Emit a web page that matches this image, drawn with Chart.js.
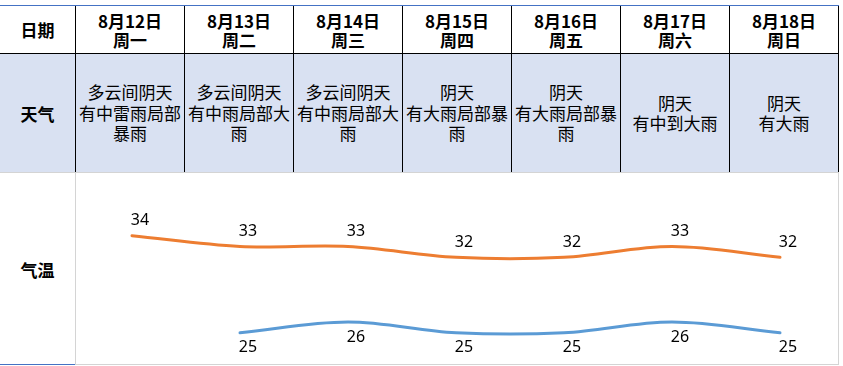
<!DOCTYPE html>
<html>
<head>
<meta charset="utf-8">
<script src="https://cdn.jsdelivr.net/npm/chart.js@4"></script>
<style>
  html, body { margin: 0; padding: 0; background: #fff; }
  body { width: 843px; height: 366px; position: relative; overflow: hidden;
         font-family: "Noto Sans CJK SC", "Noto Sans", sans-serif; color: #000; }
  .abs { position: absolute; }
  .cell { position: absolute; display: flex; align-items: center; justify-content: center;
          text-align: center; box-sizing: border-box; }
  .hdr { font-weight: bold; font-size: 17px; line-height: 19px; }
  .wx { font-size: 17px; line-height: 20.5px; padding: 0 2px; }
</style>
</head>
<body>
<div id="table"></div>
<canvas id="c" width="762" height="191" style="position:absolute;left:76px;top:173px;"></canvas>
<script>
const dates = ['8月12日', '8月13日', '8月14日', '8月15日', '8月16日', '8月17日', '8月18日'];
const weekdays = ['周一', '周二', '周三', '周四', '周五', '周六', '周日'];
const weather = [
  '多云间阴天有中雷雨局部暴雨',
  '多云间阴天有中雨局部大雨',
  '多云间阴天有中雨局部大雨',
  '阴天<br>有大雨局部暴雨',
  '阴天<br>有大雨局部暴雨',
  '阴天<br>有中到大雨',
  '阴天<br>有大雨'
];
const rowLabels = ['日期', '天气', '气温'];
const highs = [34, 33, 33, 32, 32, 33, 32];
const lows = [null, 25, 26, 25, 25, 26, 25];

// ---- table (HTML) ----
const T = document.getElementById('table');
function add(cls, style, html) {
  const d = document.createElement('div');
  d.className = cls;
  Object.assign(d.style, style);
  if (html !== undefined) d.innerHTML = html;
  T.appendChild(d);
  return d;
}
const X0 = 75, CW = 109, N = dates.length;
const xRight = X0 + CW * N; // 838
add('abs', {left: '0px', top: '54px', width: xRight + 'px', height: '118px', background: '#D9E1F2'});
add('abs', {left: '0px', top: '5px', width: (xRight + 1) + 'px', height: '1px', background: '#4472C4'});
add('abs', {left: '0px', top: '53px', width: (xRight + 1) + 'px', height: '1px', background: '#000'});
add('abs', {left: '0px', top: '172px', width: (xRight + 1) + 'px', height: '1px', background: '#D4D4D4'});
for (let i = 0; i <= N; i++) {
  add('abs', {left: (X0 + i * CW) + 'px', top: '6px', width: '1px', height: '166px', background: '#000'});
}
add('abs', {left: X0 + 'px', top: '173px', width: '1px', height: '192px', background: '#D4D4D4'});
add('abs', {left: xRight + 'px', top: '173px', width: '1px', height: '192px', background: '#D4D4D4'});
add('abs', {left: '0px', top: '364px', width: X0 + 'px', height: '1px', background: '#4472C4'});
add('abs', {left: X0 + 'px', top: '364px', width: (xRight - X0 + 1) + 'px', height: '1px', background: '#D4D4D4'});
add('cell hdr', {left: '0px', top: '6px', width: X0 + 'px', height: '47px'}, rowLabels[0]);
add('cell hdr', {left: '0px', top: '54px', width: X0 + 'px', height: '118px'}, rowLabels[1]);
add('cell hdr', {left: '0px', top: '173px', width: X0 + 'px', height: '192px'}, rowLabels[2]);
for (let i = 0; i < N; i++) {
  const l = X0 + i * CW + 1;
  add('cell hdr', {left: l + 'px', top: '6px', width: (CW - 1) + 'px', height: '47px'},
      dates[i] + '<br>' + weekdays[i]);
  let w = weather[i];
  if (i < 3) w = '多云间阴天<br>' + w.slice(5);
  add('cell wx', {left: l + 'px', top: '54px', width: (CW - 1) + 'px', height: '118px'}, w);
}

// ---- chart ----
const labelPlugin = {
  id: 'valueLabels',
  afterDatasetsDraw(chart) {
    const ctx = chart.ctx;
    ctx.save();
    ctx.font = '16px "Noto Sans", sans-serif';
    ctx.fillStyle = '#000';
    ctx.textAlign = 'center';
    ctx.textBaseline = 'middle';
    chart.data.datasets.forEach((ds, di) => {
      const meta = chart.getDatasetMeta(di);
      const dy = ds.labelAbove ? -15 : 15;
      meta.data.forEach((pt, i) => {
        const v = ds.data[i];
        if (v === null || v === undefined) return;
        ctx.fillText(String(v), pt.x + 8, pt.y + dy);
      });
    });
    ctx.restore();
  }
};

new Chart(document.getElementById('c'), {
  type: 'line',
  data: {
    labels: dates,
    datasets: [
      { data: highs, borderColor: '#ED7D31', borderWidth: 3, pointRadius: 0,
        tension: 0.35, labelAbove: true, borderCapStyle: 'round' },
      { data: lows, borderColor: '#5B9BD5', borderWidth: 3, pointRadius: 0,
        tension: 0.35, labelAbove: false, borderCapStyle: 'round' }
    ]
  },
  options: {
    responsive: false,
    animation: false,
    layout: { padding: { left: 2, right: 4, top: 0, bottom: 0 } },
    plugins: { legend: { display: false }, tooltip: { enabled: false } },
    scales: {
      x: { type: 'category', display: false, offset: true },
      y: { display: false, min: 22.1, max: 39.82 }
    }
  },
  plugins: [labelPlugin]
});
</script>
</body>
</html>
